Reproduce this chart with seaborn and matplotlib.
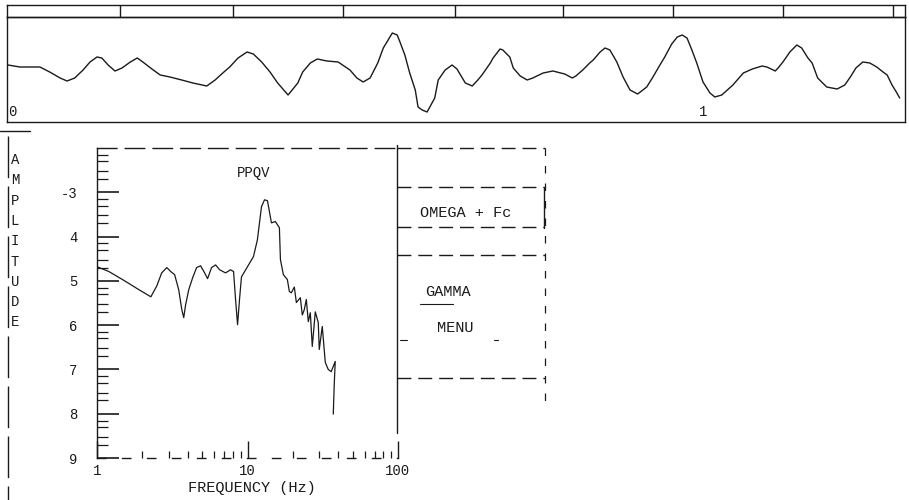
import numpy as np
import pandas as pd
import matplotlib
matplotlib.use("Agg")
import matplotlib.pyplot as plt
import seaborn as sns

# ---------------- data ----------------
wave_time = [
    0.000, 0.017, 0.046, 0.060, 0.075, 0.085, 0.096, 0.108, 0.118, 0.128,
    0.135, 0.144, 0.154, 0.164, 0.176, 0.186, 0.194, 0.209, 0.219, 0.233,
    0.250, 0.266, 0.286, 0.298, 0.309, 0.319, 0.331, 0.344, 0.353, 0.365,
    0.377, 0.388, 0.403, 0.417, 0.424, 0.435, 0.445, 0.459, 0.475, 0.492,
    0.502, 0.511, 0.521, 0.532, 0.540, 0.553, 0.560, 0.564, 0.571, 0.578,
    0.586, 0.590, 0.596, 0.603, 0.614, 0.619, 0.629, 0.639, 0.646, 0.658,
    0.668, 0.676, 0.682, 0.694, 0.698, 0.708, 0.712, 0.722, 0.727, 0.737,
    0.747, 0.755, 0.770, 0.784, 0.801, 0.812, 0.817, 0.827, 0.837, 0.842,
    0.852, 0.859, 0.866, 0.876, 0.885, 0.895, 0.906, 0.919, 0.928, 0.938,
    0.945, 0.948, 0.955, 0.963, 0.970, 0.977, 0.984, 0.991, 1.000, 1.010,
    1.017, 1.027, 1.043, 1.058, 1.071, 1.085, 1.092, 1.104, 1.108, 1.115,
    1.125, 1.135, 1.142, 1.151, 1.157, 1.165, 1.178, 1.193, 1.204, 1.212,
    1.220, 1.230, 1.240, 1.250, 1.259, 1.265, 1.272, 1.279, 1.283,
]
wave_amp = [
    3, 1, 1, -4, -10, -13, -10, -2, 6, 11,
    10, 3, -3, 0, 6, 10, 6, -2, -7, -9,
    -12, -15, -18, -12, -5, 1, 10, 16, 14, 6,
    -4, -15, -27, -15, -4, 5, 9, 7, 6, -2,
    -10, -14, -10, 5, 20, 35, 33, 26, 13, -5,
    -22, -39, -42, -44, -30, -12, -2, 3, -1, -15,
    -18, -12, -7, 5, 10, 19, 18, 11, 0, -8,
    -12, -10, -5, -3, -6, -10, -8, -2, 5, 8,
    16, 20, 18, 6, -9, -22, -26, -19, -9, 3,
    11, 15, 24, 31, 33, 30, 18, 5, -14, -25,
    -29, -27, -17, -5, -1, 2, 1, -3, 0, 6,
    16, 23, 20, 10, 5, -10, -19, -21, -17, -9,
    0, 6, 5, 1, -4, -7, -17, -25, -30,
]
ruler_ticks = [0.161, 0.324, 0.482, 0.643, 0.799, 0.957, 1.115, 1.273]
wave_labels = {"0": 0.0, "1": 1.0}

spec_freq = [
    1.00, 1.20, 1.51, 1.90, 2.28, 2.50, 2.69, 2.91, 3.09, 3.28,
    3.49, 3.66, 3.77, 3.88, 4.07, 4.32, 4.59, 4.88, 5.19, 5.43,
    5.77, 6.14, 6.53, 7.15, 7.71, 8.08, 8.33, 8.59, 8.85, 9.12,
    10.0, 10.96, 11.64, 12.38, 12.97, 13.57, 13.99, 14.42, 15.32, 16.29,
    16.55, 17.31, 18.40, 18.97, 19.54, 20.47, 21.12, 22.44, 23.13, 23.85,
    24.59, 25.35, 26.14, 26.94, 28.21, 29.52, 29.98, 31.39, 32.87, 34.39,
    35.99, 38.28, 37.70, 37.15,
]
spec_amp = [
    4.68, 4.79, 4.99, 5.20, 5.36, 5.11, 4.82, 4.70, 4.79, 4.86,
    5.20, 5.65, 5.83, 5.54, 5.20, 4.93, 4.70, 4.66, 4.82, 4.95,
    4.70, 4.64, 4.75, 4.82, 4.75, 4.79, 5.42, 5.99, 5.42, 4.91,
    4.68, 4.45, 4.07, 3.33, 3.17, 3.19, 3.44, 3.69, 3.66, 3.80,
    4.52, 4.86, 4.97, 5.24, 5.27, 5.14, 5.49, 5.38, 5.77, 5.65,
    5.42, 5.92, 5.72, 6.48, 5.70, 5.94, 6.55, 6.03, 6.84, 7.00,
    7.05, 6.82, 7.34, 8.01,
]
amp_ticks = [3, 4, 5, 6, 7, 8, 9]
amp_tick_labels = ["-3", "4", "5", "6", "7", "8", "9"]
freq_ticks = [1, 10, 100]
freq_tick_labels = ["1", "10", "100"]
y_label = "AMPLITUDE"
x_label = "FREQUENCY (Hz)"
spec_title = "PPQV"
menu_items = ["OMEGA + Fc", "GAMMA", "MENU"]

# ---------------- style ----------------
sns.set_theme(style="white")
plt.rcParams["font.family"] = ["Liberation Mono", "DejaVu Sans Mono"]
plt.rcParams["axes.linewidth"] = 1.0
INK = "#1a1a1a"

W, H = 909, 500
fig = plt.figure(figsize=(W / 100, H / 100), dpi=100)


def box(x0, y0, x1, y1):
    return [x0 / W, 1 - y1 / H, (x1 - x0) / W, (y1 - y0) / H]


def px2t(x):
    return (x - 8) / 695.0


# ---- top waveform strip ----
axw = fig.add_axes(box(7, 17, 905, 122))
axw.set_facecolor("none")
wave_df = pd.DataFrame({"t": wave_time, "v": wave_amp})
sns.lineplot(data=wave_df, x="t", y="v", ax=axw, color=INK, lw=1.0,
             estimator=None, sort=False)
axw.set_xlim(px2t(7), px2t(905))
axw.set_ylim(-54, 51)
axw.set_xticks([]); axw.set_yticks([])
axw.set_xlabel(""); axw.set_ylabel("")
for s in axw.spines.values():
    s.set_color(INK); s.set_linewidth(1.0)
for lab, t in wave_labels.items():
    axw.text(t, -44, lab, ha="left" if t == 0 else "center", va="center",
             fontsize=10, color=INK)

# ---- ruler above strip ----
axr = fig.add_axes(box(7, 5, 905, 17))
axr.set_facecolor("none")
axr.set_xlim(px2t(7), px2t(905))
axr.set_ylim(0, 1)
axr.set_xticks([]); axr.set_yticks([])
for t in ruler_ticks:
    axr.axvline(t, color=INK, lw=1.0)
for s in axr.spines.values():
    s.set_color(INK); s.set_linewidth(1.0)

# ---- spectrum ----
axs = fig.add_axes(box(97, 148, 398, 458))
axs.set_facecolor("none")
spec_df = pd.DataFrame({"f": spec_freq, "a": spec_amp})
sns.lineplot(data=spec_df, x="f", y="a", ax=axs, color=INK, lw=0.9,
             estimator=None, sort=False)
axs.set_xscale("log")
axs.set_xlim(1, 100)
axs.set_ylim(9, 2)
axs.set_xlabel(""); axs.set_ylabel("")
axs.set_yticks(amp_ticks)
axs.set_yticklabels(amp_tick_labels)
minor_y = [k + 1 - np.log10(m) for k in range(2, 9) for m in (2, 3, 5, 7)]
axs.set_yticks(minor_y, minor=True)
axs.set_xticks(freq_ticks)
axs.set_xticklabels(freq_tick_labels)
axs.set_xticks([m * 10 ** k for k in range(0, 2) for m in range(2, 10)], minor=True)
axs.tick_params(axis="y", which="major", direction="in", length=16, width=1.2,
                pad=14, labelsize=10, colors=INK, left=True)
axs.tick_params(axis="y", which="minor", direction="in", length=8, width=0.9,
                left=True, colors=INK)
axs.tick_params(axis="x", which="major", direction="in", length=12, width=1.0,
                pad=4, labelsize=10, colors=INK, bottom=True)
axs.tick_params(axis="x", which="minor", direction="in", length=5, width=0.9,
                bottom=True, colors=INK)
axs.text(0.52, 0.92, spec_title, transform=axs.transAxes, ha="center",
         va="center", fontsize=10, color=INK)
axs.spines["right"].set_visible(False)
axs.spines["top"].set_color(INK)
axs.spines["top"].set_linestyle((0, (14, 6)))
axs.spines["left"].set_color(INK)
axs.spines["bottom"].set_color(INK)
axs.spines["bottom"].set_linestyle((0, (6, 12)))

# ---- overlay (pixel coords) for panel frames and labels ----
axo = fig.add_axes([0, 0, 1, 1])
axo.set_xlim(0, W); axo.set_ylim(H, 0)
axo.axis("off")
axo.patch.set_alpha(0)
dash = (0, (10, 5))
# left frame line
axo.plot([8, 8], [136, 500], color=INK, lw=1.0, ls=(0, (30, 6)))
axo.plot([0, 30], [131, 131], color=INK, lw=1.0)
# y label letters
for i, ch in enumerate(y_label):
    axo.text(15, 160 + i * 20.3, ch, ha="center", va="center", fontsize=10, color=INK)
axo.text(252, 488, x_label, ha="center", va="center", fontsize=11, color=INK)
# menu panel
axo.plot([397, 397], [145, 433], color=INK, lw=1.0)
axo.plot([397, 545], [148, 148], color=INK, lw=1.0, ls=dash)
axo.plot([545, 545], [148, 410], color=INK, lw=0.9, ls=(0, (6, 8)))
axo.plot([397, 544], [187, 187], color=INK, lw=1.0, ls=dash)
axo.plot([397, 544], [227, 227], color=INK, lw=1.0, ls=dash)
axo.plot([544, 544], [187, 228], color=INK, lw=1.0)
axo.plot([397, 545], [255, 255], color=INK, lw=1.0, ls=dash)
axo.plot([397, 545], [378, 378], color=INK, lw=1.0, ls=dash)
axo.plot([420, 453], [304, 304], color=INK, lw=0.8)
axo.plot([400, 407], [340, 340], color=INK, lw=0.8)
axo.plot([494, 498], [340, 340], color=INK, lw=0.8)
axo.text(466, 213, menu_items[0], ha="center", va="center", fontsize=11, color=INK)
axo.text(448, 292, menu_items[1], ha="center", va="center", fontsize=11, color=INK)
axo.text(455, 328, menu_items[2], ha="center", va="center", fontsize=11, color=INK)

fig.savefig("out.png", dpi=100)
